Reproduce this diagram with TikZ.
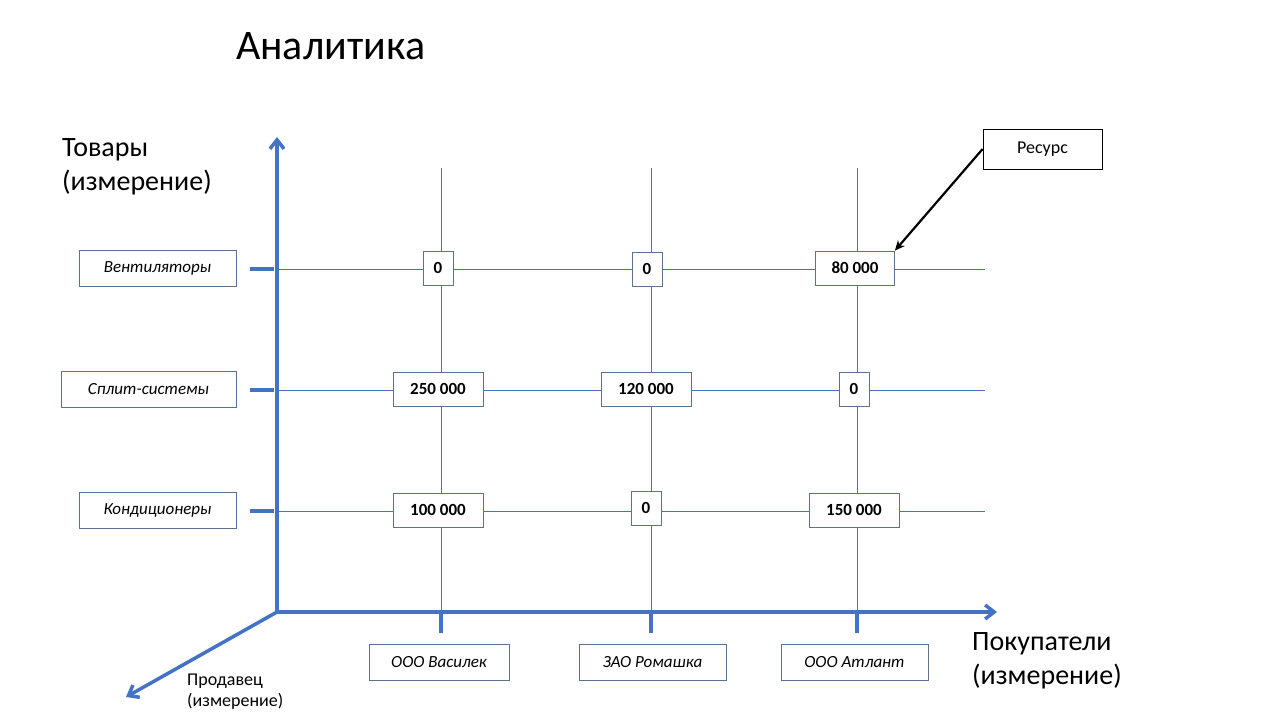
\documentclass[tikz,border=0pt]{standalone}
\usepackage{fontspec}
\setmainfont{Carlito}
\usetikzlibrary{arrows.meta}
\definecolor{ax}{HTML}{4472C4}
\definecolor{bx}{HTML}{5B7290}
\begin{document}
\begin{tikzpicture}[x=1pt,y=-1pt,
  axis/.style={ax,line width=3.5pt,-{Straight Barb[length=9pt,width=14pt]}},
  grid/.style={ax,line width=0.8pt},
  tick/.style={ax,line width=3.5pt},
  lab/.style={draw=bx,line width=0.8pt,font=\fontsize{17}{20}\selectfont\itshape,inner sep=0pt,anchor=center},
  val/.style={draw=bx,line width=0.8pt,fill=white,font=\fontsize{17}{20}\selectfont\bfseries,inner sep=0pt,anchor=center},
  big/.style={font=\fontsize{28}{34}\selectfont,align=left,anchor=north west,inner sep=0pt}]
\useasboundingbox[fill=white] (0,0) rectangle (1280,720);
\node[font=\fontsize{42}{48}\selectfont,anchor=west,inner sep=0pt] (title) at (236,46) {Аналитика};
\node[big] (tov) at (62,138) {Товары\\(измерение)};
\node[big] (pok) at (972,632) {Покупатели\\(измерение)};
\node[font=\fontsize{18}{21}\selectfont,align=left,anchor=north west,inner sep=0pt] (prod) at (187,674) {Продавец\\(измерение)};
% origin
\coordinate (o) at (277,612);
\coordinate (ytop) at (277,137);
\coordinate (xend) at (997,612);
\coordinate (zend) at (126,697);
% grid
\foreach \y/\n in {269/a,390/b,511/c}{
  \coordinate (L\n) at (277,\y); \coordinate (R\n) at (985,\y);
  \draw[grid] (L\n) -- (R\n);
  \coordinate (t1\n) at (250,\y); \coordinate (t2\n) at (274,\y);
  \draw[tick] (t1\n) -- (t2\n);}
\foreach \x/\n in {441/a,651/b,857/c}{
  \coordinate (T\n) at (\x,168); \coordinate (B\n) at (\x,612);
  \draw[grid] (T\n) -- (B\n);
  \coordinate (u1\n) at (\x,612); \coordinate (u2\n) at (\x,633);
  \draw[tick] (u1\n) -- (u2\n);}
\draw[axis] (o) -- (ytop);
\draw[axis] (o) -- (xend);
\draw[axis] (o) -- (zend);
% row labels
\node[lab,minimum width=157pt,minimum height=36pt] (r1) at (157.5,268) {Вентиляторы};
\node[lab,minimum width=175pt,minimum height=36pt] (r2) at (148.5,389) {Сплит-системы};
\node[lab,minimum width=157pt,minimum height=36pt] (r3) at (157.5,510) {Кондиционеры};
% column labels
\node[lab,minimum width=140pt,minimum height=36pt] (c1) at (439,662) {ООО Василек};
\node[lab,minimum width=147pt,minimum height=36pt] (c2) at (652.5,662) {ЗАО Ромашка};
\node[lab,minimum width=147pt,minimum height=36pt] (c3) at (854.5,662) {ООО Атлант};
% values
\node[val,minimum width=30pt,minimum height=34pt] (v11) at (438,268) {0};
\node[val,minimum width=30pt,minimum height=34pt] (v12) at (647,269) {0};
\node[val,minimum width=79pt,minimum height=34pt] (v13) at (855,268) {80 000};
\node[val,minimum width=90pt,minimum height=34pt] (v21) at (438,389) {250 000};
\node[val,minimum width=90pt,minimum height=34pt] (v22) at (646,389) {120 000};
\node[val,minimum width=30pt,minimum height=34pt] (v23) at (854,389) {0};
\node[val,minimum width=90pt,minimum height=34pt] (v31) at (438,510) {100 000};
\node[val,minimum width=30pt,minimum height=34pt] (v32) at (646,508) {0};
\node[val,minimum width=90pt,minimum height=34pt] (v33) at (854,510) {150 000};
% resource
\node[draw=black,line width=0.8pt,font=\fontsize{18}{21}\selectfont,minimum width=119pt,minimum height=40pt,inner sep=0pt] (res) at (1042.5,149) {Ресурс};
\draw[black,line width=2.2pt,-{Stealth[length=10pt,width=9pt]}] (res.west) -- (v13.north east);
\end{tikzpicture}
\end{document}
